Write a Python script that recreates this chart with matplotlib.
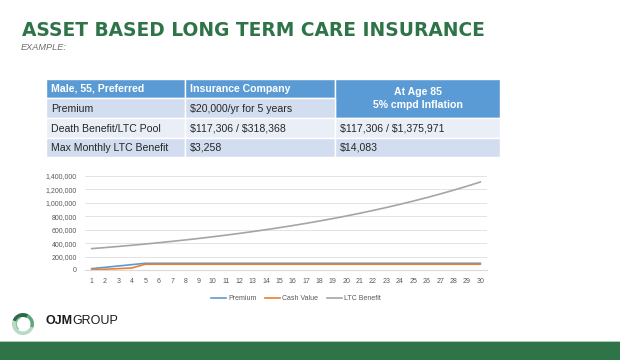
import matplotlib
matplotlib.use("Agg")
import matplotlib.pyplot as plt  # noqa: E402
from matplotlib.patches import Rectangle, Wedge  # noqa: E402
from matplotlib.ticker import FuncFormatter  # noqa: E402

# -------------------------------
# Data
# -------------------------------
years = list(range(1, 31))
premium = [20000, 40000, 60000, 80000] + [100000] * 26
cash_value = [5000, 12000, 20000, 30000] + [86000] * 26
ltc_benefit = [
    318368, 334286, 351001, 368551, 386978, 406327, 426644, 447976, 470375, 493893,
    518588, 544517, 571743, 600330, 630347, 661864, 694957, 729705, 766190, 804500,
    844725, 886961, 931309, 977874, 1026768, 1078106, 1132011, 1188612, 1248043, 1310445,
]
series_names = ["Premium", "Cash Value", "LTC Benefit"]

table_header = ["Male, 55, Preferred", "Insurance Company", "At Age 85\n5% cmpd Inflation"]
table_rows = [
    ["Premium", "$20,000/yr for 5 years", None],
    ["Death Benefit/LTC Pool", "$117,306 / $318,368", "$117,306 / $1,375,971"],
    ["Max Monthly LTC Benefit", "$3,258", "$14,083"],
]

GREEN = "#2F7348"
BLUE = "#5B9BD5"
ORANGE = "#ED7D31"
GRAY = "#A5A5A5"
ROW_DARK = "#D2DEEF"
ROW_LIGHT = "#EAEFF7"

W, H = 620, 360
plt.rcParams["font.family"] = ["Liberation Sans", "DejaVu Sans"]
plt.rcParams["text.parse_math"] = False
fig = plt.figure(figsize=(W / 100, H / 100), dpi=100)
fig.patch.set_facecolor("white")

# background axes in pixel coordinates
bg = fig.add_axes([0, 0, 1, 1])
bg.set_xlim(0, W)
bg.set_ylim(H, 0)
bg.axis("off")

# -------------------------------
# Title
# -------------------------------
title = bg.text(22, 36, "ASSET BASED LONG TERM CARE INSURANCE", color=GREEN,
                fontsize=13.4, fontweight="bold", va="baseline", ha="left",
                family="DejaVu Sans")
bg.text(21, 50.5, "EXAMPLE:", color="#6E6E6E", fontsize=6.6, style="italic",
        va="baseline", ha="left")

# -------------------------------
# Table
# -------------------------------
col_x = [46, 185, 335, 500]
row_y = [79, 98, 118, 138, 157]
FS = 7.6
txt_kw = dict(fontsize=FS, va="center", ha="left", color="#262626")

for c in range(3):
    x0, x1 = col_x[c], col_x[c + 1]
    if c == 2:
        bg.add_patch(Rectangle((x0, row_y[0]), x1 - x0, row_y[2] - row_y[0],
                               facecolor=BLUE, edgecolor="white", lw=1))
        bg.text((x0 + x1) / 2, (row_y[0] + row_y[2]) / 2, table_header[c],
                fontsize=FS, fontweight="bold", color="white",
                ha="center", va="center", linespacing=1.45)
    else:
        bg.add_patch(Rectangle((x0, row_y[0]), x1 - x0, row_y[1] - row_y[0],
                               facecolor=BLUE, edgecolor="white", lw=1))
        bg.text(x0 + 5, (row_y[0] + row_y[1]) / 2, table_header[c],
                fontsize=FS, fontweight="bold", color="white", ha="left", va="center")

for r, row in enumerate(table_rows):
    y0, y1 = row_y[r + 1], row_y[r + 2]
    fill = ROW_DARK if r % 2 == 0 else ROW_LIGHT
    for c, val in enumerate(row):
        if val is None:
            continue
        x0, x1 = col_x[c], col_x[c + 1]
        bg.add_patch(Rectangle((x0, y0), x1 - x0, y1 - y0,
                               facecolor=fill, edgecolor="white", lw=1))
        bg.text(x0 + 5, (y0 + y1) / 2 + 0.5, val, **txt_kw)

# -------------------------------
# Chart
# -------------------------------
ax = fig.add_axes([85 / W, 1 - 270 / H, (487 - 85) / W, (270 - 176) / H])
ax.plot(years, premium, color=BLUE, lw=1.2, label=series_names[0])
ax.plot(years, cash_value, color=ORANGE, lw=1.2, label=series_names[1])
ax.plot(years, ltc_benefit, color=GRAY, lw=1.2, label=series_names[2])
ax.set_xlim(0.5, 30.5)
ax.set_ylim(0, 1400000)
ax.set_yticks(range(0, 1400001, 200000))
ax.set_xticks(years)
ax.yaxis.set_major_formatter(FuncFormatter(lambda v, p: f"{int(v):,}"))
ax.grid(axis="y", color="#E3E3E3", lw=0.7)
ax.set_axisbelow(True)
for s in ax.spines.values():
    s.set_visible(False)
ax.spines["bottom"].set_visible(True)
ax.spines["bottom"].set_color("#D9D9D9")
ax.tick_params(axis="both", length=0, labelsize=5, labelcolor="#595959")
ax.tick_params(axis="x", pad=6)
ax.tick_params(axis="y", pad=6)
ax.legend(loc="center", bbox_to_anchor=(296 / W, 1 - 299 / H),
          bbox_transform=fig.transFigure, ncol=3, frameon=False,
          fontsize=5, handlelength=2.2, handletextpad=0.3, columnspacing=1.2,
          labelcolor="#595959")

# -------------------------------
# Logo
# -------------------------------
cx, cy = 23, 324
bg.add_patch(Wedge((cx, cy), 11, 20, 200, width=3.5, facecolor="#B9D9C4", edgecolor="none"))
bg.add_patch(Wedge((cx, cy), 11, 200, 300, width=4, facecolor="#2E6B45", edgecolor="none"))
bg.add_patch(Wedge((cx, cy), 11, 300, 20, width=3.5, facecolor="#5FA57B", edgecolor="none"))
bg.add_patch(Wedge((cx, cy), 7.5, 130, 250, width=1.5, facecolor="#8CC4A2", edgecolor="none"))
ojm = bg.text(45, 321, "OJM", fontsize=9, fontweight="bold", color="#1A1A1A",
              ha="left", va="center")
fig.canvas.draw()
ext = ojm.get_window_extent()
x_after = bg.transData.inverted().transform((ext.x1, ext.y0))[0]
bg.text(x_after + 0.3, 321, "GROUP", fontsize=9, color="#1A1A1A",
        ha="left", va="center")

# -------------------------------
# Footer bar
# -------------------------------
bg.add_patch(Rectangle((0, 340.5), W, 1.5, facecolor="#A9CBB3", edgecolor="none"))
bg.add_patch(Rectangle((0, 342), W, 18, facecolor="#2F7348", edgecolor="none"))

fig.savefig("out.png", dpi=100)
plt.close(fig)
